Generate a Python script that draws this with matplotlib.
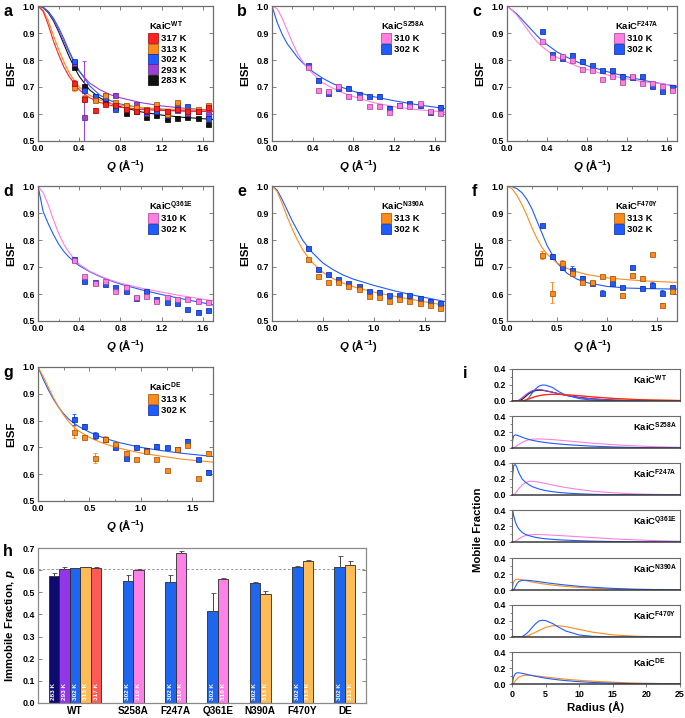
import matplotlib
matplotlib.use('Agg')
import matplotlib.pyplot as plt
from matplotlib.ticker import MultipleLocator

plt.rcParams['font.family'] = ['Liberation Sans', 'DejaVu Sans']
plt.rcParams['font.weight'] = 'bold'
plt.rcParams['axes.labelweight'] = 'bold'
plt.rcParams['mathtext.fontset'] = 'custom'
plt.rcParams['mathtext.rm'] = 'Liberation Sans:bold'
plt.rcParams['mathtext.bf'] = 'Liberation Sans:bold'
plt.rcParams['mathtext.it'] = 'Liberation Sans:bold:italic'

# ---------------- data ----------------
q_pts = [0.35, 0.45, 0.55, 0.65, 0.75, 0.85, 0.95, 1.05, 1.15, 1.25, 1.35, 1.45, 1.55, 1.65]
q_fit = [0, 0.05, 0.1, 0.15, 0.2, 0.25, 0.3, 0.35, 0.4, 0.5, 0.6, 0.7, 0.8, 1.0, 1.2, 1.4, 1.7]

# panel a, KaiC WT
wt_317_pts = [0.715, 0.655, 0.613, 0.638, 0.635, 0.62, 0.61, 0.615, 0.623, 0.61, 0.62, 0.61, 0.61, 0.625]
wt_313_pts = [0.70, 0.66, 0.651, 0.669, 0.645, 0.635, 0.625, 0.618, 0.636, 0.60, 0.645, 0.615, 0.618, 0.632]
wt_302_pts = [0.795, 0.688, 0.665, 0.66, 0.62, 0.625, 0.62, 0.61, 0.612, 0.597, 0.632, 0.628, 0.612, 0.587]
wt_293_pts = [0.79, 0.59, 0.665, 0.67, 0.672, 0.63, 0.637, 0.605, 0.61, 0.60, 0.615, 0.605, 0.61, 0.60]
wt_283_pts = [0.775, 0.704, 0.66, 0.65, 0.625, 0.605, 0.61, 0.59, 0.595, 0.583, 0.585, 0.59, 0.585, 0.562]
wt_317_err = [0.01, 0.01, 0.008, 0.005, 0.005, 0.005, 0.005, 0.005, 0.005, 0.005, 0.005, 0.005, 0.005, 0.005]
wt_313_err = [0.015, 0.01, 0.008, 0.005, 0.005, 0.005, 0.005, 0.005, 0.005, 0.005, 0.005, 0.005, 0.005, 0.005]
wt_293_err = [0.01, 0.205, 0.008, 0.005, 0.005, 0.005, 0.005, 0.005, 0.005, 0.005, 0.005, 0.005, 0.005, 0.005]
wt_317_fit = [1.0, 0.98, 0.93, 0.87, 0.82, 0.775, 0.74, 0.715, 0.69, 0.66, 0.643, 0.632, 0.625, 0.617, 0.613, 0.611, 0.61]
wt_313_fit = [1.0, 0.985, 0.945, 0.89, 0.84, 0.795, 0.755, 0.725, 0.70, 0.67, 0.652, 0.64, 0.633, 0.624, 0.619, 0.616, 0.614]
wt_302_fit = [1.0, 0.995, 0.98, 0.955, 0.92, 0.88, 0.835, 0.795, 0.76, 0.705, 0.67, 0.65, 0.637, 0.623, 0.616, 0.612, 0.609]
wt_293_fit = [1.0, 0.995, 0.978, 0.95, 0.912, 0.87, 0.83, 0.79, 0.758, 0.715, 0.69, 0.672, 0.66, 0.642, 0.63, 0.622, 0.614]
wt_283_fit = [1.0, 0.995, 0.975, 0.945, 0.905, 0.86, 0.815, 0.775, 0.74, 0.69, 0.66, 0.64, 0.627, 0.608, 0.596, 0.588, 0.58]

# panel b, S258A
s258_310_pts = [0.775, 0.688, 0.685, 0.705, 0.665, 0.663, 0.630, 0.628, 0.607, 0.633, 0.628, 0.640, 0.610, 0.605]
s258_302_pts = [0.78, 0.727, 0.678, 0.697, 0.697, 0.673, 0.665, 0.668, 0.624, 0.635, 0.64, 0.632, 0.608, 0.627]
s258_310_fit = [1.0, 0.99, 0.955, 0.91, 0.865, 0.825, 0.795, 0.77, 0.75, 0.715, 0.695, 0.678, 0.665, 0.642, 0.627, 0.617, 0.607]
s258_302_fit = [1.0, 0.94, 0.895, 0.86, 0.835, 0.81, 0.79, 0.773, 0.757, 0.732, 0.712, 0.697, 0.684, 0.664, 0.649, 0.636, 0.62]

# panel c, F247A
f247_310_pts = [0.87, 0.81, 0.815, 0.80, 0.767, 0.763, 0.73, 0.742, 0.717, 0.74, 0.715, 0.715, 0.705, 0.69]
f247_302_pts = [0.907, 0.822, 0.808, 0.82, 0.797, 0.78, 0.763, 0.763, 0.742, 0.738, 0.74, 0.702, 0.687, 0.70]
f247_310_fit = [1.0, 0.985, 0.965, 0.94, 0.915, 0.89, 0.868, 0.85, 0.835, 0.81, 0.792, 0.777, 0.765, 0.745, 0.73, 0.718, 0.705]
f247_302_fit = [1.0, 0.985, 0.97, 0.95, 0.93, 0.91, 0.89, 0.872, 0.857, 0.83, 0.81, 0.793, 0.779, 0.757, 0.738, 0.722, 0.702]

# panel d, Q361E
q361_310_pts = [0.725, 0.665, 0.64, 0.65, 0.612, 0.625, 0.59, 0.593, 0.575, 0.59, 0.58, 0.58, 0.575, 0.57]
q361_302_pts = [0.73, 0.648, 0.645, 0.638, 0.625, 0.612, 0.585, 0.61, 0.58, 0.57, 0.565, 0.545, 0.535, 0.54]
q361_310_fit = [1.0, 0.975, 0.93, 0.875, 0.825, 0.785, 0.755, 0.73, 0.71, 0.685, 0.667, 0.652, 0.64, 0.622, 0.607, 0.593, 0.575]
q361_302_fit = [1.0, 0.905, 0.86, 0.82, 0.785, 0.758, 0.737, 0.72, 0.705, 0.683, 0.665, 0.65, 0.637, 0.616, 0.598, 0.582, 0.56]

# panel e, N390A
n390_313_pts = [0.728, 0.665, 0.643, 0.645, 0.628, 0.618, 0.593, 0.59, 0.575, 0.58, 0.575, 0.565, 0.56, 0.55]
n390_302_pts = [0.77, 0.692, 0.673, 0.655, 0.64, 0.628, 0.61, 0.608, 0.595, 0.595, 0.595, 0.585, 0.575, 0.565]
n390_313_fit = [1.0, 0.98, 0.935, 0.885, 0.84, 0.80, 0.765, 0.738, 0.715, 0.68, 0.657, 0.64, 0.627, 0.607, 0.592, 0.578, 0.558]
n390_302_fit = [1.0, 0.985, 0.95, 0.91, 0.87, 0.835, 0.80, 0.775, 0.752, 0.715, 0.69, 0.67, 0.655, 0.632, 0.612, 0.595, 0.572]

# panel f, F470Y
f470_313_pts = [0.745, 0.605, 0.715, 0.678, 0.645, 0.645, 0.665, 0.66, 0.598, 0.672, 0.66, 0.747, 0.56, 0.61]
f470_302_pts = [0.855, 0.74, 0.70, 0.69, 0.66, 0.64, 0.605, 0.64, 0.625, 0.70, 0.622, 0.635, 0.605, 0.625]
f470_313_err = [0.015, 0.04, 0.01, 0.008, 0.006, 0.005, 0.005, 0.005, 0.005, 0.005, 0.005, 0.005, 0.005, 0.008]
f470_302_err = [0.005, 0.01, 0.01, 0.012, 0.008, 0.006, 0.008, 0.006, 0.006, 0.005, 0.006, 0.01, 0.008, 0.006]
f470_313_fit = [1.0, 0.99, 0.965, 0.93, 0.89, 0.845, 0.805, 0.772, 0.748, 0.715, 0.695, 0.682, 0.672, 0.66, 0.653, 0.648, 0.643]
f470_302_fit = [1.0, 0.998, 0.99, 0.975, 0.95, 0.915, 0.87, 0.825, 0.78, 0.715, 0.677, 0.655, 0.642, 0.628, 0.622, 0.62, 0.618]

# panel g, DE
de_313_pts = [0.758, 0.74, 0.66, 0.733, 0.712, 0.68, 0.655, 0.688, 0.655, 0.615, 0.693, 0.71, 0.585, 0.678]
de_302_pts = [0.805, 0.78, 0.745, 0.733, 0.703, 0.66, 0.70, 0.69, 0.706, 0.70, 0.693, 0.725, 0.655, 0.608]
de_313_err = [0.022, 0.008, 0.02, 0.008, 0.008, 0.006, 0.006, 0.006, 0.005, 0.005, 0.006, 0.008, 0.005, 0.008]
de_302_err = [0.02, 0.008, 0.012, 0.006, 0.008, 0.006, 0.005, 0.005, 0.006, 0.005, 0.005, 0.008, 0.006, 0.006]
de_313_fit = [1.0, 0.965, 0.925, 0.885, 0.85, 0.82, 0.795, 0.775, 0.76, 0.737, 0.72, 0.707, 0.696, 0.679, 0.667, 0.656, 0.645]
de_302_fit = [1.0, 0.955, 0.915, 0.88, 0.85, 0.825, 0.805, 0.79, 0.777, 0.757, 0.741, 0.728, 0.717, 0.70, 0.688, 0.678, 0.666]

# panel h, immobile fraction p
groups = ['WT', 'S258A', 'F247A', 'Q361E', 'N390A', 'F470Y', 'DE']
group_temps = [['283 K', '293 K', '302 K', '313 K', '317 K'],
               ['302 K', '310 K'], ['302 K', '310 K'], ['302 K', '310 K'],
               ['302 K', '313 K'], ['302 K', '313 K'], ['302 K', '313 K']]
group_p = [[0.575, 0.605, 0.608, 0.613, 0.61],
           [0.552, 0.60], [0.545, 0.678], [0.415, 0.558],
           [0.540, 0.491], [0.616, 0.640], [0.613, 0.622]]
group_perr = [[0.01, 0.007, 0.003, 0.003, 0.003],
              [0.028, 0.006], [0.033, 0.008], [0.08, 0.005],
              [0.006, 0.015], [0.004, 0.008], [0.049, 0.021]]
p_ref = 0.607

# panel i, mobile fraction vs radius
radius = [0, 0.1, 0.25, 0.5, 0.75, 1, 1.5, 2, 2.5, 3, 3.5, 4, 4.5, 5, 6, 7, 8, 10, 12, 15, 18, 21, 25]
mob_wt_283 = [0, 0, 0, 0, 0, 0, 0.02, 0.055, 0.09, 0.115, 0.13, 0.135, 0.133, 0.127, 0.11, 0.09, 0.072, 0.045, 0.027, 0.012, 0.005, 0.002, 0]
mob_wt_293 = [0, 0, 0, 0, 0, 0.01, 0.04, 0.075, 0.105, 0.128, 0.14, 0.142, 0.138, 0.13, 0.11, 0.09, 0.07, 0.042, 0.025, 0.01, 0.004, 0.001, 0]
mob_wt_302 = [0, 0, 0, 0, 0, 0, 0, 0, 0.04, 0.10, 0.15, 0.185, 0.20, 0.198, 0.17, 0.115, 0.075, 0.03, 0.01, 0.002, 0, 0, 0]
mob_wt_313 = [0, 0, 0, 0, 0, 0, 0, 0.015, 0.03, 0.045, 0.058, 0.068, 0.075, 0.08, 0.085, 0.084, 0.08, 0.067, 0.052, 0.034, 0.021, 0.013, 0.007]
mob_wt_317 = [0, 0, 0, 0, 0, 0, 0, 0.01, 0.025, 0.04, 0.055, 0.065, 0.073, 0.078, 0.083, 0.082, 0.078, 0.065, 0.05, 0.032, 0.02, 0.012, 0.006]
mob_s258_302 = [0, 0.10, 0.15, 0.165, 0.16, 0.152, 0.135, 0.12, 0.107, 0.096, 0.088, 0.08, 0.074, 0.068, 0.058, 0.05, 0.043, 0.032, 0.023, 0.013, 0.007, 0.003, 0.001]
mob_s258_310 = [0, 0, 0.005, 0.015, 0.03, 0.045, 0.07, 0.09, 0.103, 0.11, 0.113, 0.113, 0.112, 0.11, 0.105, 0.098, 0.09, 0.075, 0.06, 0.042, 0.028, 0.017, 0.008]
mob_f247_302 = [0, 0.25, 0.37, 0.38, 0.34, 0.28, 0.20, 0.16, 0.13, 0.105, 0.09, 0.075, 0.065, 0.055, 0.042, 0.032, 0.025, 0.015, 0.009, 0.004, 0.002, 0.001, 0]
mob_f247_310 = [0, 0, 0, 0.02, 0.05, 0.08, 0.125, 0.155, 0.17, 0.172, 0.168, 0.16, 0.152, 0.143, 0.125, 0.108, 0.093, 0.068, 0.048, 0.028, 0.015, 0.008, 0.003]
mob_q361_302 = [0, 0.40, 0.33, 0.25, 0.20, 0.165, 0.12, 0.095, 0.08, 0.068, 0.058, 0.051, 0.045, 0.04, 0.033, 0.027, 0.023, 0.016, 0.011, 0.006, 0.003, 0.002, 0.001]
mob_q361_310 = [0, 0, 0, 0.01, 0.025, 0.04, 0.065, 0.08, 0.088, 0.092, 0.093, 0.093, 0.092, 0.09, 0.086, 0.081, 0.076, 0.065, 0.055, 0.04, 0.028, 0.018, 0.009]
mob_n390_302 = [0, 0, 0.005, 0.04, 0.08, 0.105, 0.12, 0.122, 0.12, 0.115, 0.11, 0.104, 0.098, 0.092, 0.081, 0.071, 0.062, 0.046, 0.034, 0.02, 0.011, 0.006, 0.002]
mob_n390_313 = [0, 0.05, 0.10, 0.128, 0.135, 0.134, 0.127, 0.118, 0.108, 0.10, 0.092, 0.085, 0.078, 0.072, 0.061, 0.052, 0.044, 0.031, 0.022, 0.012, 0.006, 0.003, 0.001]
mob_f470_302 = [0, 0, 0, 0, 0, 0, 0.005, 0.03, 0.07, 0.12, 0.165, 0.20, 0.21, 0.205, 0.17, 0.12, 0.075, 0.025, 0.008, 0.001, 0, 0, 0]
mob_f470_313 = [0, 0, 0, 0, 0, 0, 0, 0.005, 0.02, 0.04, 0.06, 0.08, 0.10, 0.12, 0.14, 0.14, 0.13, 0.095, 0.06, 0.027, 0.011, 0.004, 0.001]
mob_de_302 = [0, 0.03, 0.09, 0.13, 0.14, 0.14, 0.133, 0.124, 0.114, 0.105, 0.096, 0.088, 0.08, 0.073, 0.061, 0.051, 0.042, 0.029, 0.019, 0.01, 0.005, 0.002, 0.001]
mob_de_313 = [0, 0, 0.01, 0.04, 0.065, 0.085, 0.103, 0.11, 0.11, 0.107, 0.102, 0.097, 0.092, 0.087, 0.077, 0.068, 0.06, 0.046, 0.035, 0.022, 0.013, 0.007, 0.003]

# colours per temperature: (line/face, marker edge)
colors = {'317 K': ('#ff2020', '#a00000'), '313 K': ('#ff8a1c', '#9a4a00'),
          '302 K': ('#1f5cff', '#0a1f9a'), '293 K': ('#9a3fd8', '#55207a'),
          '283 K': ('#111111', '#000000'), '310 K': ('#ff7fe0', '#a23a9a')}
bar_colors = {'283 K': '#0d0c6e', '293 K': '#9236e8', '302 K': '#1f66ee',
              '313 K': '#ffbb55', '317 K': '#ff5a55', '310 K': '#ff80e6'}

W, H = 685, 718
fig = plt.figure(figsize=(W / 100, H / 100), dpi=100)
frame_col = '#6e6e6e'
tick_fs = 6.4
lab_fs = 8.2


def add_ax(l, t, r, b):
    return fig.add_axes([l / W, 1 - b / H, (r - l) / W, (b - t) / H])


def eisf_panel(ax, name, series, xmajor):
    for lab, pts, fit, err in series[::-1]:
        c, ec = colors[lab]
        ax.plot(q_fit, fit, color=c, lw=0.8, zorder=2)
        ax.errorbar(q_pts, pts, yerr=err, fmt='none', ecolor=c, elinewidth=0.7,
                    capsize=1.5, capthick=0.6, zorder=3)
        ax.plot(q_pts, pts, 's', ms=3.6, mfc=c, mec=ec, mew=0.5, zorder=4)
    handles = [plt.Line2D([], [], ls='none', marker='s', ms=6.5, mfc=colors[s[0]][0],
                          mec=colors[s[0]][1], mew=0.5) for s in series]
    leg = ax.legend(handles, [s[0] for s in series], title='KaiC$^{\\mathrm{%s}}$' % name,
                    loc='upper left', bbox_to_anchor=(0.6, 0.94), frameon=False,
                    fontsize=6.8, title_fontsize=6.8, handletextpad=0.35,
                    labelspacing=0.15, borderpad=0.1, handlelength=1.0)
    leg._legend_box.align = 'left'
    ax.set_xlim(0, 1.7)
    ax.set_ylim(0.5, 1.0)
    ax.xaxis.set_major_locator(MultipleLocator(xmajor))
    ax.xaxis.set_minor_locator(MultipleLocator(xmajor / 2))
    ax.yaxis.set_major_locator(MultipleLocator(0.1))
    ax.tick_params(which='both', direction='in', top=True, right=True,
                   labelsize=tick_fs, color=frame_col, width=0.6, pad=2)
    ax.tick_params(which='major', length=3)
    ax.tick_params(which='minor', length=1.8)
    ax.xaxis.set_major_formatter(plt.FormatStrFormatter('%.1f'))
    ax.yaxis.set_major_formatter(plt.FormatStrFormatter('%.1f'))
    for sp in ax.spines.values():
        sp.set_color(frame_col)
        sp.set_linewidth(0.9)
    ax.set_ylabel('EISF', fontsize=lab_fs, labelpad=5)
    ax.set_xlabel('$\\mathit{Q}$ (Å$^{\\mathbf{-1}}$)', fontsize=lab_fs, labelpad=4)


small = 0.005
panels = [
    ('a', (38, 6, 213, 141), 'WT', 0.4,
     [('317 K', wt_317_pts, wt_317_fit, wt_317_err),
      ('313 K', wt_313_pts, wt_313_fit, wt_313_err),
      ('302 K', wt_302_pts, wt_302_fit, small),
      ('293 K', wt_293_pts, wt_293_fit, wt_293_err),
      ('283 K', wt_283_pts, wt_283_fit, small)]),
    ('b', (272, 6, 445, 141), 'S258A', 0.4,
     [('310 K', s258_310_pts, s258_310_fit, small),
      ('302 K', s258_302_pts, s258_302_fit, small)]),
    ('c', (507, 6, 677, 141), 'F247A', 0.4,
     [('310 K', f247_310_pts, f247_310_fit, small),
      ('302 K', f247_302_pts, f247_302_fit, small)]),
    ('d', (38, 186, 213, 321), 'Q361E', 0.4,
     [('310 K', q361_310_pts, q361_310_fit, small),
      ('302 K', q361_302_pts, q361_302_fit, small)]),
    ('e', (272, 186, 445, 321), 'N390A', 0.5,
     [('313 K', n390_313_pts, n390_313_fit, small),
      ('302 K', n390_302_pts, n390_302_fit, small)]),
    ('f', (507, 186, 677, 321), 'F470Y', 0.5,
     [('313 K', f470_313_pts, f470_313_fit, f470_313_err),
      ('302 K', f470_302_pts, f470_302_fit, f470_302_err)]),
    ('g', (38, 367, 213, 501), 'DE', 0.5,
     [('313 K', de_313_pts, de_313_fit, de_313_err),
      ('302 K', de_302_pts, de_302_fit, de_302_err)]),
]
for letter, box, name, xmaj, series in panels:
    ax = add_ax(*box)
    eisf_panel(ax, name, series, xmaj)
    fig.text((box[0] - 35) / W, 1 - (box[1] + 6) / H, letter, fontsize=11.5,
             fontweight='bold', ha='left', va='center')

# ---------------- panel h ----------------
axh = add_ax(38, 548, 366, 703)
centers = []
for gi, (temps, vals, errs) in enumerate(zip(group_temps, group_p, group_perr)):
    n = len(temps)
    start = 1 if gi == 0 else 4 * gi + 4
    xs = [start + 0.5 + k for k in range(n)]
    centers.append(start + n / 2)
    axh.bar(xs, vals, width=1.0, color=[bar_colors[t] for t in temps],
            edgecolor='#2a2a2a', linewidth=0.6, zorder=2)
    axh.errorbar(xs, vals, yerr=[[0] * n, errs], fmt='none', ecolor='#444444',
                 elinewidth=0.7, capsize=1.8, capthick=0.6, zorder=3)
    for x, t in zip(xs, temps):
        axh.text(x, 0.012, t, rotation=90, color='white', fontsize=4.6,
                 ha='center', va='bottom', fontweight='bold', zorder=4)
axh.axhline(p_ref, color='#999999', ls=(0, (2.5, 2)), lw=0.7, zorder=1)
axh.set_xlim(0, 31)
axh.set_ylim(0, 0.7)
axh.set_xticks(centers)
axh.set_xticklabels(groups, fontsize=7.2, fontweight='bold')
axh.yaxis.set_major_locator(MultipleLocator(0.1))
axh.yaxis.set_major_formatter(plt.FormatStrFormatter('%.1f'))
axh.tick_params(axis='y', direction='in', right=True, labelsize=tick_fs, length=3,
                width=0.6, color=frame_col, pad=2)
axh.tick_params(axis='x', length=0, pad=2.5)
for sp in axh.spines.values():
    sp.set_color('#8a8a8a')
    sp.set_linewidth(0.9)
axh.set_ylabel('Immobile Fraction, $\\mathit{p}$', fontsize=lab_fs, labelpad=4)
fig.text(3 / W, 1 - 552 / H, 'h', fontsize=11.5, fontweight='bold', ha='left', va='center')

# ---------------- panel i ----------------
mob_panels = [
    ('WT', [('283 K', mob_wt_283), ('293 K', mob_wt_293), ('302 K', mob_wt_302),
            ('313 K', mob_wt_313), ('317 K', mob_wt_317)]),
    ('S258A', [('310 K', mob_s258_310), ('302 K', mob_s258_302)]),
    ('F247A', [('310 K', mob_f247_310), ('302 K', mob_f247_302)]),
    ('Q361E', [('310 K', mob_q361_310), ('302 K', mob_q361_302)]),
    ('N390A', [('313 K', mob_n390_313), ('302 K', mob_n390_302)]),
    ('F470Y', [('313 K', mob_f470_313), ('302 K', mob_f470_302)]),
    ('DE', [('313 K', mob_de_313), ('302 K', mob_de_302)]),
]
tops = [369, 416, 463, 510, 558, 605, 652]
for k, (name, curves) in enumerate(mob_panels):
    ax = add_ax(512, tops[k], 680, tops[k] + 32)
    for t, vals in curves:
        ax.plot(radius, vals, color=colors[t][0], lw=0.8)
    ax.set_xlim(0, 25)
    ax.set_ylim(0, 0.4)
    ax.yaxis.set_major_locator(MultipleLocator(0.2))
    ax.yaxis.set_minor_locator(MultipleLocator(0.1))
    ax.yaxis.set_major_formatter(plt.FormatStrFormatter('%.1f'))
    ax.xaxis.set_major_locator(MultipleLocator(5))
    ax.tick_params(which='both', direction='out', labelsize=tick_fs, color=frame_col,
                   width=0.6, pad=1.5)
    ax.tick_params(which='major', length=2.5)
    ax.tick_params(which='minor', length=1.5)
    for sp in ax.spines.values():
        sp.set_color('#6a6a6a')
        sp.set_linewidth(0.8)
    ax.spines['bottom'].set_color('#3a3a3a')
    ax.spines['bottom'].set_linewidth(1.1)
    ax.text(0.72, 0.66, 'KaiC$^{\\mathrm{%s}}$' % name, transform=ax.transAxes,
            fontsize=6.8, fontweight='bold', ha='left', va='center')
    if k < 6:
        ax.tick_params(axis='x', which='both', bottom=False, labelbottom=False)
    else:
        ax.set_xlabel('Radius (Å)', fontsize=lab_fs, labelpad=2)
fig.text(478 / W, 1 - 530 / H, 'Mobile Fraction', rotation=90, fontsize=lab_fs,
         fontweight='bold', ha='center', va='center')
fig.text(463 / W, 1 - 373 / H, 'i', fontsize=11.5, fontweight='bold', ha='left', va='center')

fig.savefig('out.png', dpi=100)
